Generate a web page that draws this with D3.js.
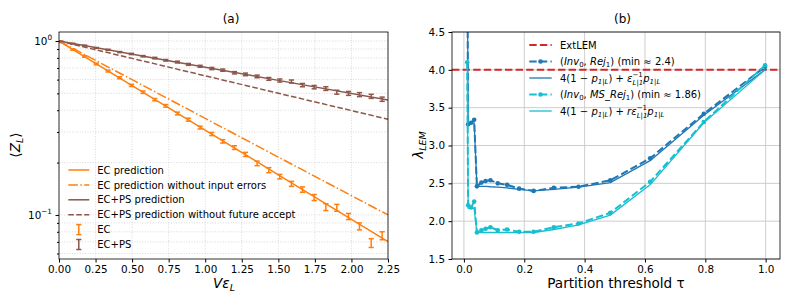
<!DOCTYPE html>
<html>
<head>
<meta charset="utf-8">
<script src="https://cdn.jsdelivr.net/npm/d3@7"></script>
<style>
body { margin: 0; background: #fff; }
text { font-family: "DejaVu Sans", sans-serif; fill: #000; white-space: pre; }
</style>
</head>
<body>
<svg id="chart" width="793" height="305"></svg>
<script>
// ---- panel (a) data ----
var vEps = [0.014, 0.095, 0.175, 0.255, 0.335, 0.415, 0.495, 0.575, 0.655, 0.73,
            0.81, 0.885, 0.965, 1.045, 1.12, 1.2, 1.275, 1.355, 1.435, 1.51,
            1.59, 1.665, 1.745, 1.825, 1.9, 1.98, 2.055, 2.135, 2.21];
var ecMean = [0.985, 0.893, 0.815, 0.738, 0.672, 0.615, 0.556, 0.508, 0.460, 0.424,
              0.383, 0.353, 0.318, 0.292, 0.265, 0.244, 0.223, 0.198, 0.181, 0.166,
              0.151, 0.140, 0.126, 0.111, 0.110, 0.098, 0.086, 0.069, 0.076];
var ecErr = [0.006, 0.008, 0.008, 0.008, 0.008, 0.008, 0.008, 0.008, 0.007, 0.007,
             0.007, 0.007, 0.006, 0.006, 0.006, 0.006, 0.006, 0.006, 0.006, 0.005,
             0.005, 0.005, 0.005, 0.005, 0.005, 0.004, 0.004, 0.004, 0.004];
var ecpsMean = [0.995, 0.966, 0.942, 0.913, 0.891, 0.864, 0.843, 0.818, 0.798, 0.775,
                0.757, 0.734, 0.716, 0.695, 0.680, 0.657, 0.643, 0.626, 0.606, 0.593,
                0.585, 0.558, 0.543, 0.533, 0.508, 0.500, 0.492, 0.481, 0.463];
var ecpsErr = [0.003, 0.004, 0.005, 0.005, 0.006, 0.006, 0.007, 0.007, 0.008, 0.008,
               0.009, 0.009, 0.009, 0.010, 0.010, 0.010, 0.011, 0.011, 0.011, 0.012,
               0.012, 0.012, 0.012, 0.013, 0.013, 0.013, 0.013, 0.013, 0.013];
var predX = [0, 0.75, 1.5, 2.25];
var ecPred = [1.0, 0.413, 0.170, 0.0703];
var ecPredNoErr = [1.0, 0.464, 0.215, 0.100];
var ecpsPred = [1.0, 0.771, 0.594, 0.458];
var ecpsPredNoAcc = [1.0, 0.708, 0.501, 0.355];
var xTicksA = [0, 0.25, 0.5, 0.75, 1.0, 1.25, 1.5, 1.75, 2.0, 2.25];

// ---- panel (b) data ----
var tau = [0.011, 0.014, 0.024, 0.034, 0.043, 0.058, 0.072, 0.088, 0.112, 0.143,
           0.183, 0.231, 0.298, 0.38, 0.485, 0.617, 0.795, 0.998];
var rejMeas = [5.5, 3.28, 3.30, 3.34, 2.46, 2.51, 2.53, 2.54, 2.50, 2.48,
               2.43, 2.40, 2.44, 2.455, 2.54, 2.83, 3.42, 4.04];
var rejTheory = [5.5, 3.29, 3.29, 3.30, 2.46, 2.46, 2.46, 2.455, 2.45, 2.44,
                 2.42, 2.40, 2.42, 2.45, 2.51, 2.80, 3.40, 4.00];
var msMeas = [4.10, 2.21, 2.18, 2.26, 1.85, 1.88, 1.90, 1.92, 1.88, 1.89,
              1.86, 1.86, 1.92, 1.97, 2.11, 2.52, 3.31, 4.06];
var msTheory = [4.10, 2.17, 2.17, 2.17, 1.85, 1.85, 1.85, 1.85, 1.85, 1.85,
                1.85, 1.85, 1.89, 1.95, 2.08, 2.48, 3.30, 4.00];
var extLEM = 4.0;
var xTicksB = [0, 0.2, 0.4, 0.6, 0.8, 1.0];
var yTicksB = [1.5, 2.0, 2.5, 3.0, 3.5, 4.0, 4.5];

var orange = '#ff7f0e', brown = '#8c564b', blue = '#1f77b4', cyan = '#17becf', red = '#d62728';

var svg = d3.select('#chart');

// draws text made of pieces (normal, italic, sub, sup, stacked) and returns end x
function rich(g, x, y, segs, fs) {
    var cx = x;
    segs.forEach(function(s) {
        var kind = s[1];
        if (kind === 'ss') {
            var a = g.append('text').attr('x', cx).attr('y', y - fs * 0.42)
                .style('font-size', (fs * 0.7) + 'px').text(s[0]);
            var b = g.append('text').attr('x', cx).attr('y', y + fs * 0.3)
                .style('font-size', (fs * 0.7) + 'px').style('font-style', 'italic').text(s[2]);
            cx += Math.max(a.node().getComputedTextLength(), b.node().getComputedTextLength());
            return;
        }
        var t = g.append('text').attr('x', cx).text(s[0]);
        var size = fs, dy = 0;
        if (kind === 'sub' || kind === 'isub') { size = fs * 0.7; dy = fs * 0.22; }
        if (kind === 'sup') { size = fs * 0.7; dy = -fs * 0.42; }
        t.attr('y', y + dy).style('font-size', size + 'px');
        if (kind === 'i' || kind === 'isub') t.style('font-style', 'italic');
        cx += t.node().getComputedTextLength();
    });
    return cx;
}

function richCentered(cx, cy, rot, segs, fs) {
    var g = svg.append('g');
    var inner = g.append('g');
    var w = rich(inner, 0, 0, segs, fs);
    inner.attr('transform', 'translate(' + (-w / 2) + ',0)');
    g.attr('transform', 'translate(' + cx + ',' + cy + ') rotate(' + rot + ')');
    return g;
}

// ================= panel (a) =================
var A = {l: 59, r: 388, t: 32, b: 259};
var xA = d3.scaleLinear().domain([0, 2.25]).range([A.l, A.r]);
var yA = d3.scaleLog().domain([0.0558, 1.127]).range([A.b, A.t]);

var defs = svg.append('defs');
defs.append('clipPath').attr('id', 'clipA').append('rect')
    .attr('x', A.l).attr('y', A.t).attr('width', A.r - A.l).attr('height', A.b - A.t);

var yMinor = [0.06, 0.07, 0.08, 0.09, 0.2, 0.3, 0.4, 0.5, 0.6, 0.7, 0.8, 0.9];
var yMajor = [0.1, 1];

var gridA = svg.append('g');
gridA.selectAll('line.v').data(xTicksA).enter().append('line')
    .attr('x1', function(d) { return xA(d); }).attr('x2', function(d) { return xA(d); })
    .attr('y1', A.t).attr('y2', A.b)
    .style('stroke', '#cfcfcf').style('stroke-width', 0.8).style('stroke-dasharray', '1,1.6');
gridA.selectAll('line.h').data(yMinor.concat(yMajor)).enter().append('line')
    .attr('x1', A.l).attr('x2', A.r)
    .attr('y1', function(d) { return yA(d); }).attr('y2', function(d) { return yA(d); })
    .style('stroke', '#cfcfcf').style('stroke-width', 0.8).style('stroke-dasharray', '1,1.6');

var plotA = svg.append('g').attr('clip-path', 'url(#clipA)');
var lineA = d3.line().x(function(d) { return xA(d[0]); }).y(function(d) { return yA(d[1]); });

function predLine(vals, color, dash) {
    plotA.append('path')
        .datum(predX.map(function(x, i) { return [x, vals[i]]; }))
        .attr('d', lineA)
        .style('fill', 'none').style('stroke', color).style('stroke-width', 1.5)
        .style('stroke-dasharray', dash);
}
predLine(ecPred, orange, null);
predLine(ecPredNoErr, orange, '9.6,2.4,1.5,2.4');
predLine(ecpsPred, brown, null);
predLine(ecpsPredNoAcc, brown, '5.55,2.4');

function errorBars(means, errs, color) {
    var g = plotA.append('g').style('stroke', color).style('stroke-width', 1.5);
    var pts = vEps.map(function(x, i) { return {x: x, y: means[i], e: errs[i]}; });
    g.selectAll('line.bar').data(pts).enter().append('line')
        .attr('x1', function(d) { return xA(d.x); }).attr('x2', function(d) { return xA(d.x); })
        .attr('y1', function(d) { return yA(d.y - d.e); }).attr('y2', function(d) { return yA(d.y + d.e); });
    [-1, 1].forEach(function(sgn) {
        g.selectAll('line.cap' + sgn).data(pts).enter().append('line')
            .attr('x1', function(d) { return xA(d.x) - 2.6; }).attr('x2', function(d) { return xA(d.x) + 2.6; })
            .attr('y1', function(d) { return yA(d.y + sgn * d.e); }).attr('y2', function(d) { return yA(d.y + sgn * d.e); });
    });
}
errorBars(ecMean, ecErr, orange);
errorBars(ecpsMean, ecpsErr, brown);

// axes (a)
svg.append('g').attr('transform', 'translate(0,' + A.b + ')')
    .call(d3.axisBottom(xA).tickValues(xTicksA).tickFormat(d3.format('.2f')).tickSizeOuter(0).tickSize(3.5).tickPadding(3.5))
    .call(function(g) { g.select('.domain').remove(); g.selectAll('text').style('font-size', '10.4px').style('font-family', '"DejaVu Sans", sans-serif'); });
svg.append('g').attr('transform', 'translate(' + A.l + ',0)')
    .call(d3.axisLeft(yA).tickValues(yMinor).tickFormat('').tickSizeOuter(0).tickSize(2))
    .call(function(g) { g.select('.domain').remove(); });
svg.append('g').attr('transform', 'translate(' + A.l + ',0)')
    .call(d3.axisLeft(yA).tickValues(yMajor).tickFormat('').tickSizeOuter(0).tickSize(3.5))
    .call(function(g) { g.select('.domain').remove(); });
yMajor.forEach(function(v) {
    var g = svg.append('g');
    var inner = g.append('g');
    var w = rich(inner, 0, 0, [['10', 'n'], [v === 1 ? '0' : '\u22121', 'sup']], 10.4);
    g.attr('transform', 'translate(' + (A.l - 7 - w) + ',' + (yA(v) + 3.8) + ')');
});
svg.append('rect').attr('x', A.l).attr('y', A.t).attr('width', A.r - A.l).attr('height', A.b - A.t)
    .style('fill', 'none').style('stroke', '#000').style('stroke-width', 0.8);

svg.append('text').attr('x', 231).attr('y', 22.5).attr('text-anchor', 'middle')
    .style('font-size', '12px').text('(a)');
richCentered(224, 288, 0, [['V', 'i'], ['\u03b5', 'i'], ['L', 'isub']], 13.6);
richCentered(20, 145, -90, [['\u27e8', 'n'], ['Z', 'i'], ['L', 'isub'], ['\u27e9', 'n']], 13.6);

// legend (a)
var legA = svg.append('g');
var legAItems = [
    {label: 'EC prediction', color: orange, dash: null, type: 'line'},
    {label: 'EC prediction without input errors', color: orange, dash: '9.6,2.4,1.5,2.4', type: 'line'},
    {label: 'EC+PS prediction', color: brown, dash: null, type: 'line'},
    {label: 'EC+PS prediction without future accept', color: brown, dash: '5.55,2.4', type: 'line'},
    {label: 'EC', color: orange, type: 'err'},
    {label: 'EC+PS', color: brown, type: 'err'}
];
legAItems.forEach(function(d, i) {
    var y = 170 + i * 14.9;
    if (d.type === 'line') {
        legA.append('line').attr('x1', 68.3).attr('x2', 89.3).attr('y1', y).attr('y2', y)
            .style('stroke', d.color).style('stroke-width', 1.5).style('stroke-dasharray', d.dash);
    } else {
        var g = legA.append('g').style('stroke', d.color).style('stroke-width', 1.5);
        g.append('line').attr('x1', 78.8).attr('x2', 78.8).attr('y1', y - 5).attr('y2', y + 5);
        g.append('line').attr('x1', 76.2).attr('x2', 81.4).attr('y1', y - 5).attr('y2', y - 5);
        g.append('line').attr('x1', 76.2).attr('x2', 81.4).attr('y1', y + 5).attr('y2', y + 5);
    }
    legA.append('text').attr('x', 97.3).attr('y', y + 3.6).style('font-size', '10px').text(d.label);
});

// ================= panel (b) =================
var B = {l: 452, r: 780, t: 32, b: 259};
var xB = d3.scaleLinear().domain([-0.0395, 1.0475]).range([B.l, B.r]);
var yB = d3.scaleLinear().domain([1.5, 4.5]).range([B.b, B.t]);

defs.append('clipPath').attr('id', 'clipB').append('rect')
    .attr('x', B.l).attr('y', B.t).attr('width', B.r - B.l).attr('height', B.b - B.t);

var gridB = svg.append('g').style('stroke', '#c8c8c8').style('stroke-width', 0.9);
gridB.selectAll('line.v').data(xTicksB).enter().append('line')
    .attr('x1', function(d) { return xB(d); }).attr('x2', function(d) { return xB(d); })
    .attr('y1', B.t).attr('y2', B.b);
gridB.selectAll('line.h').data(yTicksB).enter().append('line')
    .attr('x1', B.l).attr('x2', B.r)
    .attr('y1', function(d) { return yB(d); }).attr('y2', function(d) { return yB(d); });

var plotB = svg.append('g').attr('clip-path', 'url(#clipB)');
plotB.append('line').attr('x1', B.l).attr('x2', B.r).attr('y1', yB(extLEM)).attr('y2', yB(extLEM))
    .style('stroke', red).style('stroke-width', 2).style('stroke-dasharray', '7.4,3.2');

var lineB = d3.line().x(function(d) { return xB(d[0]); }).y(function(d) { return yB(d[1]); });
function seriesB(vals, color, dash, width, markers) {
    var pts = tau.map(function(t, i) { return [t, vals[i]]; });
    plotB.append('path').datum(pts).attr('d', lineB)
        .style('fill', 'none').style('stroke', color).style('stroke-width', width)
        .style('stroke-dasharray', dash).style('stroke-linejoin', 'round');
    if (markers) {
        plotB.append('g').selectAll('circle').data(pts).enter().append('circle')
            .attr('cx', function(d) { return xB(d[0]); }).attr('cy', function(d) { return yB(d[1]); })
            .attr('r', 2.3).style('fill', color);
    }
}
seriesB(rejTheory, blue, null, 1.3, false);
seriesB(rejMeas, blue, '7.4,3.2', 2, true);
seriesB(msTheory, cyan, null, 1.3, false);
seriesB(msMeas, cyan, '7.4,3.2', 2, true);

// axes (b)
svg.append('g').attr('transform', 'translate(0,' + B.b + ')')
    .call(d3.axisBottom(xB).tickValues(xTicksB).tickFormat(d3.format('.1f')).tickSizeOuter(0).tickSize(3.5).tickPadding(3.5))
    .call(function(g) { g.select('.domain').remove(); g.selectAll('text').style('font-size', '10.4px').style('font-family', '"DejaVu Sans", sans-serif'); });
svg.append('g').attr('transform', 'translate(' + B.l + ',0)')
    .call(d3.axisLeft(yB).tickValues(yTicksB).tickFormat(d3.format('.1f')).tickSizeOuter(0).tickSize(3.5).tickPadding(3.5))
    .call(function(g) { g.select('.domain').remove(); g.selectAll('text').style('font-size', '10.4px').style('font-family', '"DejaVu Sans", sans-serif'); });
svg.append('rect').attr('x', B.l).attr('y', B.t).attr('width', B.r - B.l).attr('height', B.b - B.t)
    .style('fill', 'none').style('stroke', '#000').style('stroke-width', 0.8);

svg.append('text').attr('x', 622.5).attr('y', 22.5).attr('text-anchor', 'middle')
    .style('font-size', '12px').text('(b)');
svg.append('text').attr('x', 616).attr('y', 288).attr('text-anchor', 'middle')
    .style('font-size', '13.6px').text('Partition threshold \u03c4');
richCentered(423, 145, -90, [['\u03bb', 'i'], ['LEM', 'isub']], 13.6);

// legend (b)
var legB = svg.append('g');
var legBItems = [
    {color: red, dash: '7.4,3.2', width: 2, marker: false,
     segs: [['ExtLEM', 'n']]},
    {color: blue, dash: '7.4,3.2', width: 2, marker: true,
     segs: [['(', 'n'], ['Inv', 'i'], ['0', 'sub'], [', ', 'n'], ['Rej', 'i'], ['1', 'sub'], [') (min \u2248 2.4)', 'n']]},
    {color: blue, dash: null, width: 1.3, marker: false,
     segs: [['4(1 \u2212 ', 'n'], ['p', 'i'], ['1|L', 'isub'], [') + ', 'n'], ['\u03b5', 'i'], ['\u22121', 'ss', 'L|1'], ['p', 'i'], ['1|L', 'isub']]},
    {color: cyan, dash: '7.4,3.2', width: 2, marker: true,
     segs: [['(', 'n'], ['Inv', 'i'], ['0', 'sub'], [', ', 'n'], ['MS_Rej', 'i'], ['1', 'sub'], [') (min \u2248 1.86)', 'n']]},
    {color: cyan, dash: null, width: 1.3, marker: false,
     segs: [['4(1 \u2212 ', 'n'], ['p', 'i'], ['1|L', 'isub'], [') + ', 'n'], ['r\u03b5', 'i'], ['\u22121', 'ss', 'L|1'], ['p', 'i'], ['1|L', 'isub']]}
];
legBItems.forEach(function(d, i) {
    var y = 45 + i * 16.5;
    legB.append('line').attr('x1', 529.3).attr('x2', 551.7).attr('y1', y).attr('y2', y)
        .style('stroke', d.color).style('stroke-width', d.width).style('stroke-dasharray', d.dash);
    if (d.marker) legB.append('circle').attr('cx', 540.5).attr('cy', y).attr('r', 2.3).style('fill', d.color);
    rich(legB, 560, y + 3.6, d.segs, 10);
});
</script>
</body>
</html>
